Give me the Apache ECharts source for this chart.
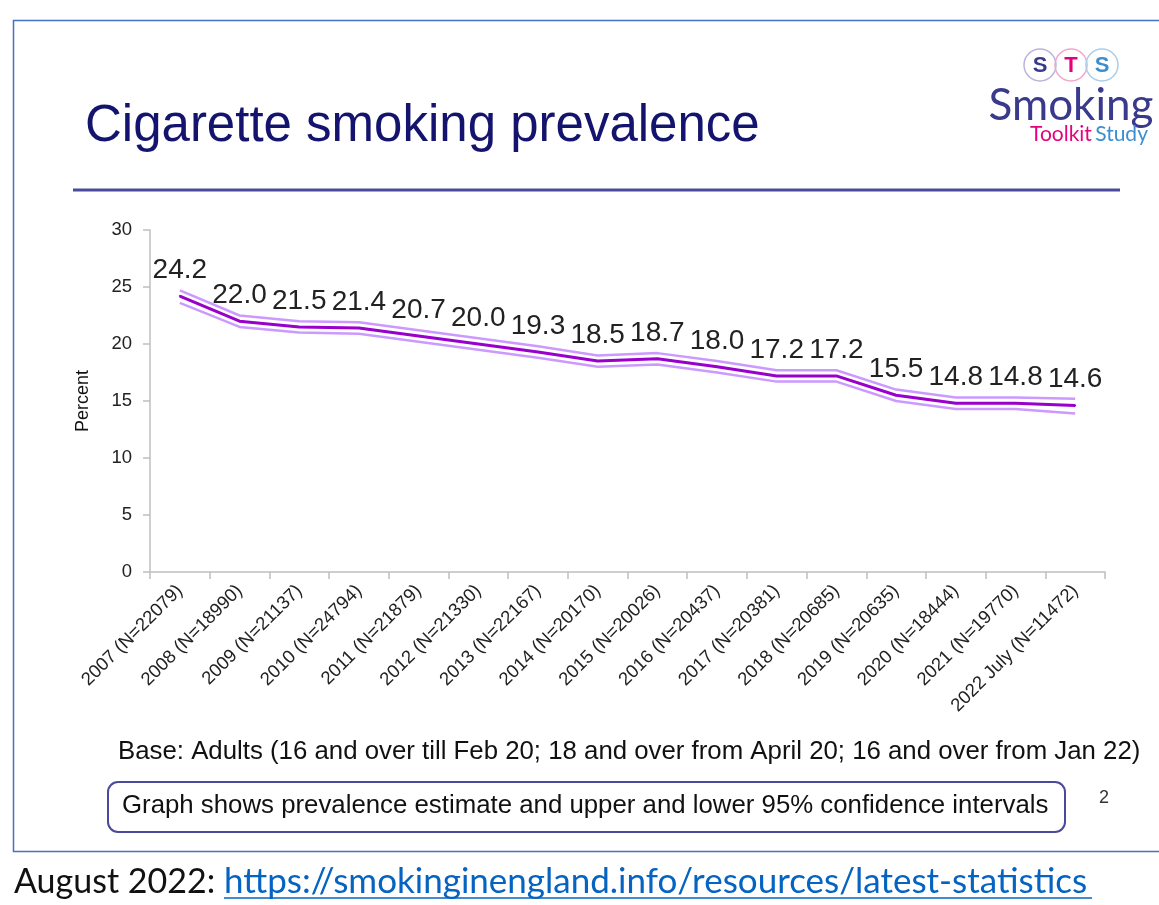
<!DOCTYPE html>
<html><head><meta charset="utf-8">
<script src="https://cdn.jsdelivr.net/npm/echarts@6/dist/echarts.min.js"></script>
<style>html,body{margin:0;padding:0;background:#fff}#c{width:1159px;height:905px}</style>
</head><body><div id="c"></div>
<script>
const categories = ["2007 (N=22079)","2008 (N=18990)","2009 (N=21137)","2010 (N=24794)","2011 (N=21879)","2012 (N=21330)","2013 (N=22167)","2014 (N=20170)","2015 (N=20026)","2016 (N=20437)","2017 (N=20381)","2018 (N=20685)","2019 (N=20635)","2020 (N=18444)","2021 (N=19770)","2022 July (N=11472)"];
const prevalence = [24.2,22.0,21.5,21.4,20.7,20.0,19.3,18.5,18.7,18.0,17.2,17.2,15.5,14.8,14.8,14.6];
const upperCI = [24.7,22.5,22.0,21.9,21.2,20.5,19.8,19.0,19.2,18.5,17.7,17.7,16.0,15.3,15.3,15.2];
const lowerCI = [23.6,21.5,21.0,20.9,20.2,19.5,18.8,18.0,18.2,17.5,16.7,16.7,15.0,14.3,14.3,13.9];
const yTicks = [0,5,10,15,20,25,30];

const chart = echarts.init(document.getElementById('c'), null, {renderer:'canvas'});
const F = 'Liberation Sans, Arial, sans-serif';
const C = 'Lato, "Open Sans", sans-serif';
chart.setOption({
  animation:false,
  backgroundColor:'#fff',
  grid:{left:150,right:54,top:230,bottom:333,containLabel:false},
  xAxis:{type:'category',data:categories,boundaryGap:true,
    axisLine:{lineStyle:{color:'#bfbfbf',width:1.5}},
    axisTick:{show:true,interval:0,length:7,lineStyle:{color:'#bfbfbf',width:1.5}},
    axisLabel:{interval:0,rotate:45,fontFamily:F,fontSize:18.5,color:'#222',margin:16}},
  yAxis:{type:'value',min:0,max:30,interval:5,
    name:'Percent',nameLocation:'middle',nameGap:58,nameRotate:90,
    nameTextStyle:{fontFamily:F,fontSize:18,color:'#111'},
    axisLine:{show:true,lineStyle:{color:'#bfbfbf',width:1.5}},
    axisTick:{show:true,length:7,lineStyle:{color:'#bfbfbf',width:1.5}},
    splitLine:{show:false},
    axisLabel:{fontFamily:F,fontSize:18.5,color:'#222',margin:18,
      formatter:v=>yTicks.includes(v)?String(v):''}},
  series:[
    {type:'line',data:upperCI,symbol:'none',lineStyle:{color:'#cc99ff',width:2.5},z:2},
    {type:'line',data:lowerCI,symbol:'none',lineStyle:{color:'#cc99ff',width:2.5},z:2},
    {type:'line',data:prevalence,symbol:'circle',symbolSize:2,showSymbol:true,itemStyle:{color:'#9900cc'},
      lineStyle:{color:'#9900cc',width:3},z:3,
      label:{show:true,position:'top',distance:11,fontFamily:F,fontSize:28,color:'#222',
        formatter:p=>p.value.toFixed(1)},
      labelLayout:{hideOverlap:false}}
  ],
  graphic:[
    {type:'rect',shape:{x:13.5,y:20.5,width:1150,height:831},style:{fill:'none',stroke:'#4472c4',lineWidth:1.5},silent:true},
    {type:'text',x:85,y:127,style:{text:'Cigarette smoking prevalence',font:'51px '+F,fill:'#14146e',textVerticalAlign:'middle'}},
    {type:'line',shape:{x1:73,y1:190,x2:1120,y2:190},style:{stroke:'#4a4a9c',lineWidth:3}},
    {type:'circle',shape:{cx:1040,cy:65,r:16},style:{fill:'none',stroke:'#b8b4dc',lineWidth:1.5}},
    {type:'circle',shape:{cx:1071,cy:65,r:16},style:{fill:'none',stroke:'#f2a6cc',lineWidth:1.5}},
    {type:'circle',shape:{cx:1102,cy:65,r:16},style:{fill:'none',stroke:'#a9cdea',lineWidth:1.5}},
    {type:'text',x:1040,y:66,style:{text:'S',font:'bold 22px '+F,fill:'#3a3a8c',textAlign:'center',textVerticalAlign:'middle'}},
    {type:'text',x:1071,y:66,style:{text:'T',font:'bold 22px '+F,fill:'#e6007e',textAlign:'center',textVerticalAlign:'middle'}},
    {type:'text',x:1102,y:66,style:{text:'S',font:'bold 22px '+F,fill:'#3b8fd0',textAlign:'center',textVerticalAlign:'middle'}},
    {type:'text',x:1071,y:106,style:{text:'Smoking',font:'44px '+C,fill:'#3a3a8c',textAlign:'center',textVerticalAlign:'middle'}},
    {type:'text',x:1089,y:134,style:{rich:{a:{font:'21px '+C,fill:'#e6007e'},b:{font:'21px '+C,fill:'#3b8fd0'}},text:'{a|Toolkit} {b|Study}',textAlign:'center',textVerticalAlign:'middle'}},
    {type:'text',x:118,y:752,style:{text:'Base: Adults (16 and over till Feb 20; 18 and over from April 20; 16 and over from Jan 22)',font:'25.8px '+F,fill:'#111',textVerticalAlign:'middle'}},
    {type:'rect',shape:{x:108,y:782,width:957,height:50,r:10},style:{fill:'none',stroke:'#4a4a9c',lineWidth:2}},
    {type:'text',x:122,y:806,style:{text:'Graph shows prevalence estimate and upper and lower 95% confidence intervals',font:'25.8px '+F,fill:'#111',textVerticalAlign:'middle'}},
    {type:'text',x:1104,y:798,style:{text:'2',font:'18px '+F,fill:'#333',textAlign:'center',textVerticalAlign:'middle'}},
    {type:'text',x:14,y:882,style:{text:'August 2022:',font:'34px '+C,fill:'#111',textVerticalAlign:'middle'}},
    {type:'text',x:224,y:882,style:{text:'https://smokinginengland.info/resources/latest-statistics',font:'35px '+C,fill:'#0563c1',textVerticalAlign:'middle'}},
    {type:'line',shape:{x1:224,y1:898,x2:1092,y2:898},style:{stroke:'#0563c1',lineWidth:1.5}}
  ]
});
</script></body></html>
